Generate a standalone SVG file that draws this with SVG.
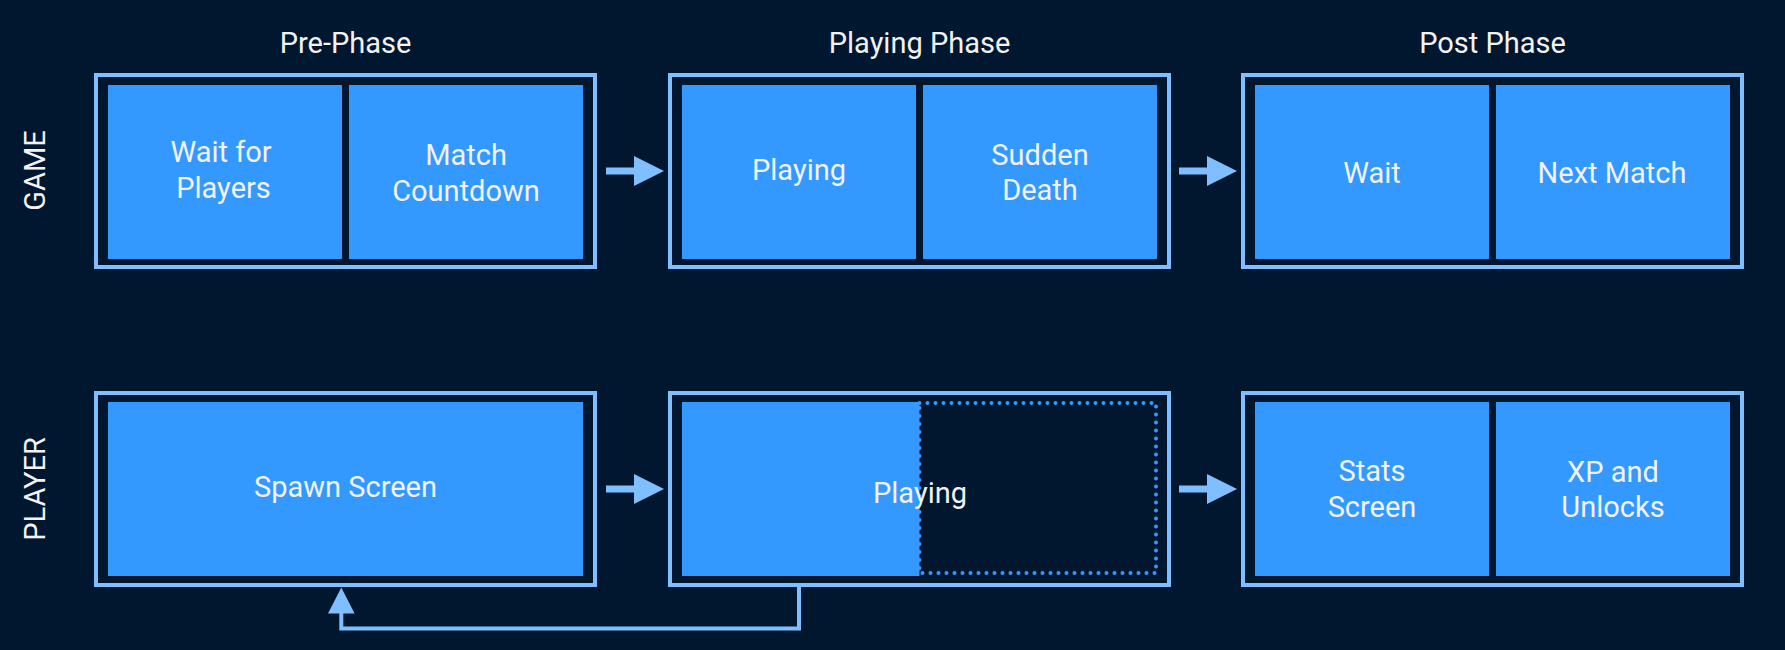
<svg xmlns="http://www.w3.org/2000/svg" width="1785" height="650" viewBox="0 0 1785 650">
<style>
.frame{fill:none;stroke:#80bfff;stroke-width:4}
.cell{fill:#3399ff}
.t{font-family:Roboto,"Liberation Sans",sans-serif;font-size:29px;fill:#f2f2f2;text-anchor:middle}
.conn{fill:none;stroke:#80bfff;stroke-width:4}
.ah{fill:#80bfff}
.dot{fill:none;stroke:#3399ff;stroke-width:4;stroke-linecap:round;stroke-dasharray:0 8}
</style>
<rect x="0" y="0" width="1785" height="650" fill="#01172f"/>
<g id="lane-labels">
<text class="t" transform="translate(45,170.5) rotate(-90)">GAME</text>
<text class="t" transform="translate(45,489) rotate(-90)">PLAYER</text>
</g>
<g id="phase-headers">
<text class="t" x="345.5" y="52.5">Pre-Phase</text>
<text class="t" x="919.5" y="52.5">Playing Phase</text>
<text class="t" x="1492.5" y="52.5">Post Phase</text>
</g>
<g id="game-pre">
<rect class="frame" x="96" y="75" width="499" height="192"/>
<rect class="cell" x="108" y="85" width="234" height="174"/>
<rect class="cell" x="349" y="85" width="234" height="174"/>
<text class="t" x="221" y="162">Wait for</text>
<text class="t" x="223.5" y="197.5">Players</text>
<text class="t" x="466" y="165">Match</text>
<text class="t" x="466" y="200.5">Countdown</text>
</g>
<g id="game-playing">
<rect class="frame" x="670" y="75" width="499" height="192"/>
<rect class="cell" x="682" y="85" width="234" height="174"/>
<rect class="cell" x="923" y="85" width="234" height="174"/>
<text class="t" x="799" y="180">Playing</text>
<text class="t" x="1040" y="164.5">Sudden</text>
<text class="t" x="1040" y="200">Death</text>
</g>
<g id="game-post">
<rect class="frame" x="1243" y="75" width="499" height="192"/>
<rect class="cell" x="1255" y="85" width="234" height="174"/>
<rect class="cell" x="1496" y="85" width="234" height="174"/>
<text class="t" x="1372" y="182.5">Wait</text>
<text class="t" x="1612" y="182.5">Next Match</text>
</g>
<g id="player-pre">
<rect class="frame" x="96" y="393" width="499" height="192"/>
<rect class="cell" x="108" y="402" width="475" height="174"/>
<text class="t" x="345.5" y="497">Spawn Screen</text>
</g>
<g id="player-playing">
<rect class="frame" x="670" y="393" width="499" height="192"/>
<rect class="cell" x="682" y="402" width="237.5" height="174"/>
<rect class="dot" x="919.5" y="403" width="236.5" height="170"/>
<text class="t" x="920" y="503">Playing</text>
</g>
<g id="player-post">
<rect class="frame" x="1243" y="393" width="499" height="192"/>
<rect class="cell" x="1255" y="402" width="234" height="174"/>
<rect class="cell" x="1496" y="402" width="234" height="174"/>
<text class="t" x="1372" y="481">Stats</text>
<text class="t" x="1372" y="517">Screen</text>
<text class="t" x="1613" y="481.5">XP and</text>
<text class="t" x="1613" y="517">Unlocks</text>
</g>
<g id="connectors">
<rect class="ah" x="606" y="167.5" width="29" height="7"/>
<polygon class="ah" points="634,156 664,171 634,186"/>
<rect class="ah" x="1179" y="167.5" width="29" height="7"/>
<polygon class="ah" points="1207,156 1237,171 1207,186"/>
<rect class="ah" x="606" y="485.5" width="29" height="7"/>
<polygon class="ah" points="634,474 664,489 634,504"/>
<rect class="ah" x="1179" y="485.5" width="29" height="7"/>
<polygon class="ah" points="1207,474 1237,489 1207,504"/>
<path class="conn" d="M799,587 V628.5 H341.3 V612"/>
<polygon class="ah" points="328,613.5 354.6,613.5 341.3,587.5"/>
</g>
</svg>
